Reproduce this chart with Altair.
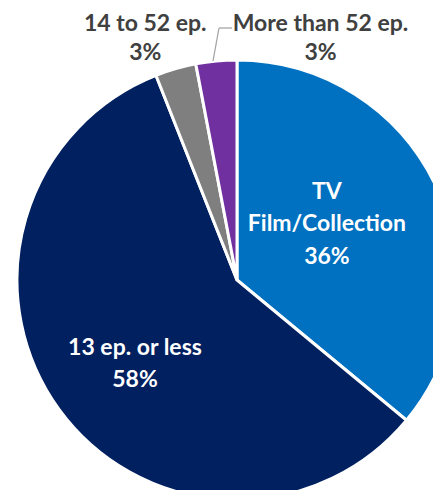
import math
import altair as alt
import pandas as pd

categories = ["TV Film/Collection", "13 ep. or less", "14 to 52 ep.", "More than 52 ep."]
shares = [36, 58, 3, 3]
label_lines = [["TV", "Film/Collection", "36%"], ["13 ep. or less", "58%"], ["14 to 52 ep.", "3%"], ["More than 52 ep.", "3%"]]
colors = ["#0070C0", "#002060", "#7F7F7F", "#7030A0"]

df = pd.DataFrame({
    "category": categories,
    "share": shares,
    "order": list(range(len(categories))),
    "label": ["\n".join(l) for l in label_lines],
})
df["mid"] = df["share"].cumsum() - df["share"] / 2

CX, CY, R = 229, 272, 220
theta_scale = alt.Scale(domain=[0, 100], range=[0, 2 * math.pi])

arc = alt.Chart(df).mark_arc(radius=R, stroke="white", strokeWidth=3).encode(
    theta=alt.Theta("share:Q", stack=True, scale=theta_scale),
    order=alt.Order("order:Q"),
    color=alt.Color("category:N", scale=alt.Scale(domain=categories, range=colors), legend=None),
    x=alt.value(CX),
    y=alt.value(CY),
)


def label_layer(cat, radius, dx, dy, color, line_height):
    return alt.Chart(df).transform_filter(alt.datum.category == cat).mark_text(
        font="Lato", fontWeight="bold", fontSize=23, color=color, lineBreak="\n",
        lineHeight=line_height, align="center", baseline="middle", dx=dx, dy=dy,
    ).encode(
        theta=alt.Theta("mid:Q", scale=theta_scale),
        radius=alt.value(radius),
        text="label:N",
        x=alt.value(CX),
        y=alt.value(CY),
    )


labels = [
    label_layer(categories[0], 106, -6, -43, "white", 32.5),
    label_layer(categories[1], 136, 8, -12, "white", 32),
    label_layer(categories[2], 250, -22, -16, "#404040", 29),
    label_layer(categories[3], 250, 107, -7, "#404040", 29),
]

leader1 = alt.Chart(df).transform_filter(alt.datum.order == 3).mark_rule(color="#A6A6A6", strokeWidth=1.3).encode(
    x=alt.value(205), x2=alt.value(211), y=alt.value(53), y2=alt.value(20)
)
leader2 = alt.Chart(df).transform_filter(alt.datum.order == 3).mark_rule(color="#A6A6A6", strokeWidth=1.3).encode(
    x=alt.value(211), x2=alt.value(224), y=alt.value(20), y2=alt.value(20)
)

chart = alt.layer(arc, leader1, leader2, *labels).properties(
    width=425, height=482, padding=0, autosize=alt.AutoSizeParams(type="none")
).configure_view(stroke=None)

chart.save("out.html", embed_options={"renderer": "svg", "actions": False})
